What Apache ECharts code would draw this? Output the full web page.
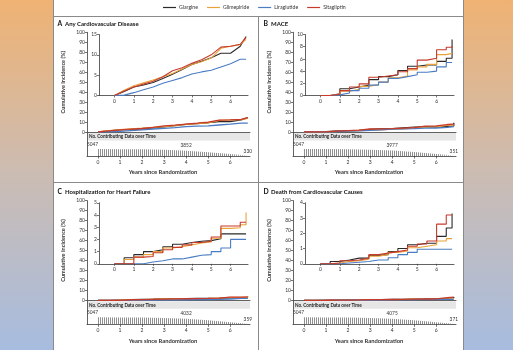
<!DOCTYPE html>
<html lang="en">
<head>
<meta charset="UTF-8">
<title>Cumulative incidence by treatment group</title>
<style>
  html, body { margin: 0; padding: 0; }
  body { width: 513px; height: 350px; position: relative; overflow: hidden;
         background: linear-gradient(to bottom, #efb273 0%, #cbbcb3 50%, #a7bcdf 100%); }
  #panel { position: absolute; left: 53px; top: -1px; width: 409px; height: 352px;
           background: #fff; border: 1px solid #8a8a8a; }
  #main { position: absolute; left: 0; top: 0; width: 513px; height: 350px; }
</style>
<script src="https://cdn.jsdelivr.net/npm/echarts@6/dist/echarts.min.js"></script>
</head>
<body>
<div id="panel"></div>
<div id="main"></div>
<script>
// groups and colours
var groups = ['Glargine', 'Glimepiride', 'Liraglutide', 'Sitagliptin'];
var groupColors = ['#2a2a2a', '#e9a23b', '#4a7cc3', '#c73b2c'];

// time points (years since randomization) the curves are read at
var years = [0, 0.5, 1, 1.5, 2, 2.5, 3, 3.5, 4, 4.5, 5, 5.5, 6, 6.5, 6.8];
var yearTicks = [0, 1, 2, 3, 4, 5, 6];

// A  Any cardiovascular disease (%)
var cvdGlargine    = [0, 1.0, 2.1, 2.6, 3.2, 4.2, 5.2, 6.4, 7.6, 8.4, 9.3, 10.4, 10.4, 12.1, 14.5];
var cvdGlimepiride = [0, 1.3, 2.4, 3.1, 3.8, 4.6, 5.4, 6.5, 7.6, 8.3, 9.2, 11.6, 12.1, 12.5, 13.8];
var cvdLiraglutide = [0, 0.1, 0.7, 1.4, 2.1, 3.0, 3.7, 4.4, 5.3, 5.8, 6.2, 7.0, 7.8, 8.9, 8.9];
var cvdSitagliptin = [0, 1.1, 2.1, 2.8, 3.5, 4.6, 6.1, 6.8, 7.9, 8.8, 10.0, 11.9, 12.1, 12.6, 14.3];

// B  MACE (%)
var maceGlargine    = [0, 0.3, 1.1, 1.4, 1.7, 2.6, 3.1, 3.4, 4.1, 4.8, 5.0, 5.0, 5.6, 6.1, 9.2];
var maceGlimepiride = [0, 0.2, 0.7, 1.0, 1.5, 1.8, 2.2, 2.9, 3.2, 4.2, 4.7, 5.1, 6.7, 6.9, 6.9];
var maceLiraglutide = [0, 0.1, 0.4, 0.8, 1.2, 1.7, 2.2, 2.8, 3.1, 3.4, 3.8, 4.0, 4.7, 5.4, 5.4];
var maceSitagliptin = [0, 0.2, 0.8, 1.4, 1.9, 3.0, 3.2, 3.4, 3.9, 4.4, 5.8, 6.1, 7.5, 7.9, 8.1];

// C  Hospitalization for heart failure (%)
var hfGlargine    = [0, 0.5, 0.75, 1.0, 1.15, 1.4, 1.6, 1.75, 1.85, 1.9, 2.05, 2.45, 2.45, 2.45, 2.45];
var hfGlimepiride = [0, 0.35, 0.55, 0.75, 1.0, 1.3, 1.4, 1.55, 1.7, 1.8, 2.1, 2.9, 2.95, 3.2, 4.2];
var hfLiraglutide = [0, 0, 0, 0.15, 0.25, 0.4, 0.4, 0.55, 0.7, 0.75, 1.0, 1.3, 2.0, 2.0, 2.0];
var hfSitagliptin = [0, 0, 0.55, 0.6, 0.9, 1.15, 1.35, 1.55, 1.75, 1.85, 2.2, 3.1, 3.1, 3.4, 3.4];

// D  Death from cardiovascular causes (%)
var cvDeathGlargine    = [0, 0.15, 0.25, 0.37, 0.37, 0.55, 0.6, 0.8, 1.0, 1.25, 1.35, 1.35, 1.8, 2.35, 3.3];
var cvDeathGlimepiride = [0, 0.05, 0.15, 0.2, 0.3, 0.5, 0.6, 0.75, 0.85, 1.05, 1.15, 1.25, 1.5, 1.65, 1.65];
var cvDeathLiraglutide = [0, 0, 0.05, 0.1, 0.15, 0.25, 0.25, 0.4, 0.6, 0.75, 0.95, 0.95, 0.95, 0.95, 0.95];
var cvDeathSitagliptin = [0, 0.05, 0.2, 0.25, 0.37, 0.6, 0.7, 0.8, 0.9, 1.15, 1.3, 1.5, 2.6, 3.2, 3.2];

// number contributing data over time
var riskYears = [0, 1, 2, 3, 4, 5, 6, 6.8];
var riskCvd     = [5047, 4950, 4800, 4500, 3852, 2700, 1400, 330];
var riskMace    = [5047, 4960, 4830, 4550, 3977, 2800, 1450, 351];
var riskHf      = [5047, 4970, 4850, 4580, 4032, 2850, 1480, 359];
var riskCvDeath = [5047, 4980, 4860, 4600, 4075, 2880, 1500, 371];
var riskLabelIdx = [0, 4, 7];

var panels = [
  {letter: 'A', title: 'Any Cardiovascular Disease', insetMax: 15, insetStep: 5, step: false,
   values: [cvdGlargine, cvdGlimepiride, cvdLiraglutide, cvdSitagliptin], risk: riskCvd},
  {letter: 'B', title: 'MACE', insetMax: 10, insetStep: 2, step: 'end',
   values: [maceGlargine, maceGlimepiride, maceLiraglutide, maceSitagliptin], risk: riskMace},
  {letter: 'C', title: 'Hospitalization for Heart Failure', insetMax: 5, insetStep: 1, step: 'end',
   values: [hfGlargine, hfGlimepiride, hfLiraglutide, hfSitagliptin], risk: riskHf},
  {letter: 'D', title: 'Death from Cardiovascular Causes', insetMax: 4, insetStep: 1, step: 'end',
   values: [cvDeathGlargine, cvDeathGlimepiride, cvDeathLiraglutide, cvDeathSitagliptin], risk: riskCvDeath}
];

var FONT = 'Lato';
var INK = '#333';

// vertical hatch used for the "contributing data" area
var hatch = document.createElement('canvas');
hatch.width = 2; hatch.height = 2;
var hc = hatch.getContext('2d');
hc.fillStyle = '#ffffff'; hc.fillRect(0, 0, 2, 2);
hc.fillStyle = '#8f8f8f'; hc.fillRect(0, 0, 1, 2);

function axisBase(extra) {
  var a = {
    type: 'value',
    splitLine: {show: false},
    axisLine: {show: true, onZero: false, lineStyle: {color: '#3a3a3a', width: 0.8}},
    axisTick: {show: true, length: 2, lineStyle: {color: '#3a3a3a', width: 0.7}},
    axisLabel: {fontSize: 5, color: INK, fontFamily: FONT, margin: 2}
  };
  for (var k in extra) {
    if (typeof extra[k] === 'object' && a[k] && !Array.isArray(extra[k])) {
      a[k] = Object.assign({}, a[k], extra[k]);
    } else {
      a[k] = extra[k];
    }
  }
  return a;
}

var grids = [], xAxes = [], yAxes = [], series = [];
var graphics = [
  {type: 'line', shape: {x1: 53, y1: 16.5, x2: 463, y2: 16.5}, style: {stroke: '#8a8a8a', lineWidth: 1}},
  {type: 'line', shape: {x1: 258.5, y1: 16.5, x2: 258.5, y2: 350}, style: {stroke: '#8a8a8a', lineWidth: 1}},
  {type: 'line', shape: {x1: 53, y1: 182.5, x2: 463, y2: 182.5}, style: {stroke: '#8a8a8a', lineWidth: 1}}
];

panels.forEach(function (p, i) {
  var dx = (i % 2) * 206;
  var dy = Math.floor(i / 2) * 168.3;
  var g = grids.length;

  grids.push({left: 87 + dx, top: 32.3 + dy, width: 163, height: 99.7});
  grids.push({left: 99 + dx, top: 34.5 + dy, width: 149, height: 61});
  grids.push({left: 87 + dx, top: 133 + dy, width: 163, height: 23});

  // main 0-100 axes
  xAxes.push(axisBase({gridIndex: g, min: -0.5, max: 6.9,
    axisTick: {show: false}, axisLabel: {show: false}}));
  yAxes.push(axisBase({gridIndex: g, min: 0, max: 100, interval: 10,
    name: 'Cumulative Incidence (%)', nameLocation: 'middle', nameGap: 21,
    nameTextStyle: {fontSize: 5.6, fontWeight: 'bold', fontFamily: FONT, color: INK}}));

  // inset axes
  xAxes.push(axisBase({gridIndex: g + 1, min: -0.8, max: 6.9,
    axisTick: {customValues: yearTicks},
    axisLabel: {customValues: yearTicks, margin: 3}}));
  yAxes.push(axisBase({gridIndex: g + 1, min: 0, max: p.insetMax, interval: p.insetStep}));

  // contributing-data axes
  xAxes.push(axisBase({gridIndex: g + 2, min: -0.5, max: 6.9,
    axisTick: {customValues: yearTicks, length: 2.5},
    axisLabel: {customValues: yearTicks, margin: 3.5},
    name: 'Years since Randomization', nameLocation: 'middle', nameGap: 13.5,
    nameTextStyle: {fontSize: 5.8, fontWeight: 'bold', fontFamily: FONT, color: INK, padding: [0, 11, 0, 0]}}));
  yAxes.push(axisBase({gridIndex: g + 2, min: 0, max: p.risk[0] * 23 / 7,
    axisTick: {show: false}, axisLabel: {show: false}}));

  p.values.forEach(function (vals, k) {
    var pts = years.map(function (t, j) { return [t, vals[j]]; });
    [g, g + 1].forEach(function (gi) {
      series.push({
        type: 'line', name: groups[k], xAxisIndex: gi, yAxisIndex: gi,
        data: pts, step: p.step, showSymbol: false, silent: true,
        color: groupColors[k],
        lineStyle: {width: gi === g ? 1.3 : 1.1, color: groupColors[k]}
      });
    });
  });

  var riskData = riskYears.map(function (t, j) {
    var item = {value: [t, p.risk[j]]};
    var li = riskLabelIdx.indexOf(j);
    if (li === 0) item.label = {show: true, position: 'top', align: 'right', distance: 2};
    if (li === 1) item.label = {show: true, position: 'top', distance: 2};
    if (li === 2) item.label = {show: true, position: 'top', distance: 1};
    return item;
  });
  series.push({
    type: 'line', name: 'contributing', xAxisIndex: g + 2, yAxisIndex: g + 2,
    data: riskData, symbol: 'circle', symbolSize: 1, silent: true,
    itemStyle: {color: 'rgba(0,0,0,0)'},
    lineStyle: {width: 0},
    areaStyle: {color: {image: hatch, repeat: 'repeat'}, opacity: 1},
    label: {show: false, fontSize: 4.8, color: INK, fontFamily: FONT,
      formatter: function (d) { return d.value[1]; }}
  });

  // panel headings and the grey "contributing data" band
  graphics.push({type: 'text', left: 57.5 + dx, top: 20.5 + dy,
    style: {text: p.letter, font: 'bold 6.8px ' + FONT, fill: '#111'}});
  graphics.push({type: 'text', left: 65 + dx, top: 20.8 + dy,
    style: {text: p.title, font: 'bold 6px ' + FONT, fill: '#111'}});
  graphics.push({type: 'rect', shape: {x: 87.5 + dx, y: 133 + dy, width: 162.5, height: 7.5},
    style: {fill: '#e6e6e6'}, z: -1});
  graphics.push({type: 'text', left: 89 + dx, top: 134.3 + dy,
    style: {text: 'No. Contributing Data over Time', font: 'bold 4.6px ' + FONT, fill: '#222'}});
});

var chart = echarts.init(document.getElementById('main'));
chart.setOption({
  backgroundColor: 'transparent',
  animation: false,
  legend: {
    data: groups, top: 5, left: 163, padding: 0,
    icon: 'rect', itemWidth: 13, itemHeight: 1.2, itemGap: 9,
    textStyle: {fontSize: 5.2, color: INK, fontFamily: FONT, padding: [0, 0, 0, -2]}
  },
  grid: grids,
  xAxis: xAxes,
  yAxis: yAxes,
  series: series,
  graphic: graphics
});
</script>
</body>
</html>
